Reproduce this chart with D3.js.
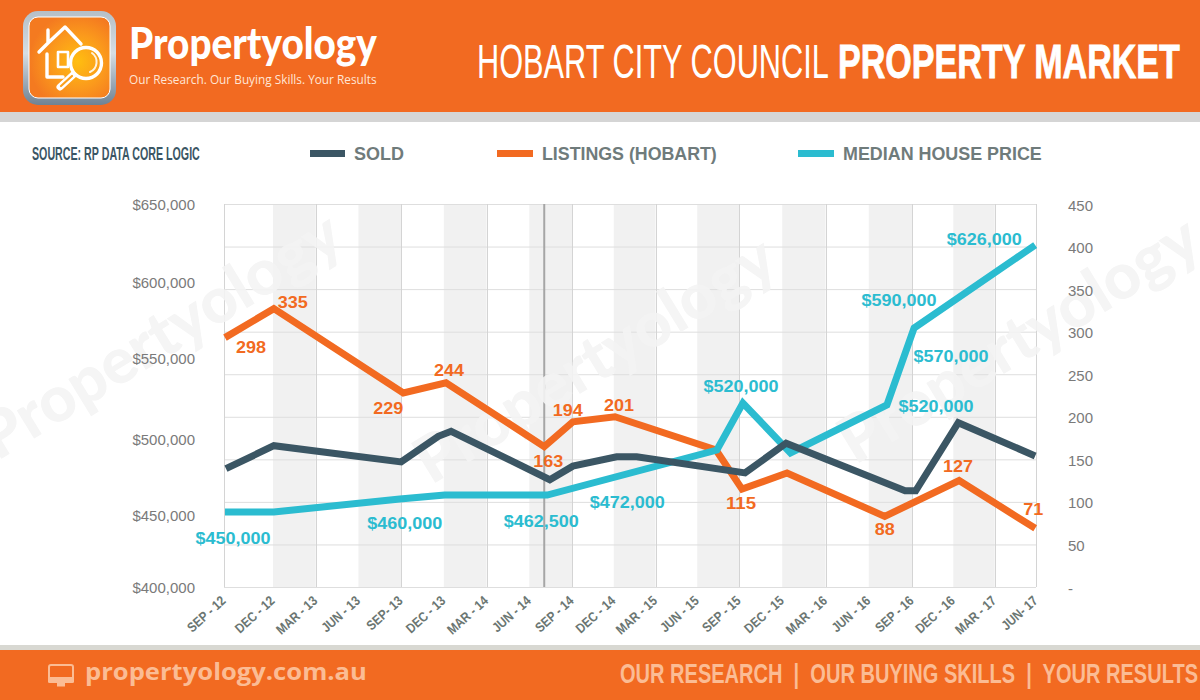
<!DOCTYPE html>
<html><head><meta charset="utf-8">
<style>html,body{margin:0;padding:0;background:#fff}svg{display:block}text{font-family:"Liberation Sans",Arial,sans-serif}</style>
<script src="https://cdn.jsdelivr.net/npm/d3@7/dist/d3.min.js"></script>
</head><body><svg id="c" width="1200" height="700"></svg>
<script>
// ---- data ----
const quarters = ["SEP - 12","DEC - 12","MAR - 13","JUN - 13","SEP- 13","DEC - 13","MAR - 14","JUN - 14","SEP - 14","DEC - 14","MAR - 15","JUN - 15","SEP - 15","DEC - 15","MAR - 16","JUN - 16","SEP - 16","DEC - 16","MAR - 17","JUN- 17"];
const priceTicks = [400000,450000,500000,550000,600000,650000];
const countTicks = [0,50,100,150,200,250,300,350,400,450];
const soldTime = [0.04,1.02,4,4.87,5.17,7.48,8.02,9.07,9.55,12.14,13.09,15.84,16.09,17.12,18.98];
const soldValues = [139,166,147,177,183,126,142,153,153,134,169,113,113,193,154];
const listingsTime = [0.02,1.02,4.05,5.05,7.35,8.02,9.03,11.45,12.07,13.11,15.37,17.14,18.98];
const listingsValues = [293,327,228,240,165,194,200,161,115,134,83,125,69];
const priceTime = [0.02,1.02,3.97,5.02,7.42,11.47,12.09,13.19,15.42,16.05,18.98];
const priceValues = [449000,449000,457400,460000,460000,489400,520100,487500,518800,569000,623200];
// labels as printed on the chart
const listingsLabels = ["298","335","229","244","163","194","201","115","88","127","71"];
const priceLabels = ["$450,000","$460,000","$462,500","$472,000","$520,000","$520,000","$570,000","$590,000","$626,000"];
const legendNames = ["SOLD","LISTINGS (HOBART)","MEDIAN HOUSE PRICE"];

// ---- layout ----
const ORANGE="#F26A21", TEAL="#2BBCD0", DARK="#3B5664", GREY="#6F7B7B", PALE="#FBBC94";
const plotTop=204, plotBottom=587, plotLeft=224, plotRight=1036;
const svg=d3.select("#c");
const x=d3.scaleLinear().domain([0,1,8,12,16,19]).range([plotLeft,273,572,739,912,plotRight]);
const yCount=d3.scaleLinear().domain([0,450]).range([plotBottom,plotTop]);
const yPrice=d3.scaleLinear().domain([400000,650000]).range([plotBottom,plotTop]);

// text squeezed horizontally to a measured width
function fitText(g,str,xp,yp,w,size,fill,weight,family){
  const t=g.append("text").attr("font-size",size).attr("fill",fill)
    .attr("font-weight",weight||"normal").style("font-family",family||null).text(str);
  const k=w/t.node().getComputedTextLength();
  t.attr("transform",`translate(${xp},${yp}) scale(${k},1)`);
  return t;
}

// ---- chrome ----
svg.append("rect").attr("width",1200).attr("height",112).attr("fill",ORANGE);
svg.append("rect").attr("y",112).attr("width",1200).attr("height",10).attr("fill","#D5D5D5");
svg.append("rect").attr("y",645).attr("width",1200).attr("height",5).attr("fill","#D8D8D2");
svg.append("rect").attr("y",650).attr("width",1200).attr("height",50).attr("fill",ORANGE);

const defs=svg.append("defs");
const metal=defs.append("linearGradient").attr("id","metal").attr("x1",0).attr("y1",0).attr("x2",0).attr("y2",1);
metal.append("stop").attr("offset",0).attr("stop-color","#B5BFC7");
metal.append("stop").attr("offset",.45).attr("stop-color","#D6DEE4");
metal.append("stop").attr("offset",1).attr("stop-color","#6F8293");
const glow=defs.append("radialGradient").attr("id","glow").attr("cx",.6).attr("cy",.55).attr("r",.6);
glow.append("stop").attr("offset",0).attr("stop-color","#FFBE10");
glow.append("stop").attr("offset",.55).attr("stop-color","#FB9A1C");
glow.append("stop").attr("offset",1).attr("stop-color","#F47A20");

// logo icon
const logo=svg.append("g");
logo.append("rect").attr("x",23).attr("y",11).attr("width",93).attr("height",94).attr("rx",15).attr("fill","url(#metal)");
logo.append("rect").attr("x",29).attr("y",17).attr("width",81).attr("height",81).attr("rx",9).attr("fill","url(#glow)").attr("stroke","#fff").attr("stroke-width",1);
const wh=logo.append("g").attr("fill","none").attr("stroke","#fff").attr("stroke-width",3.4).attr("stroke-linejoin","round").attr("stroke-linecap","round");
wh.append("path").attr("d","M39 52 L48 43 L48 30 M48 43 L65 27 L81 44");
wh.append("path").attr("d","M47 54 V77 H63");
wh.append("rect").attr("x",58).attr("y",52).attr("width",10).attr("height",15).attr("stroke-width",2.6);
wh.append("circle").attr("cx",86).attr("cy",63).attr("r",15.5);
wh.append("path").attr("d","M92 53 A11 11 0 0 1 90 72").attr("stroke-width",2).attr("opacity",.85);
wh.append("path").attr("d","M73 75 L60 87").attr("stroke-width",7);
wh.append("path").attr("d","M72 76 L61 86").attr("stroke","#FBA01C").attr("stroke-width",2.2);

fitText(svg,"Propertyology",129,59,248,44,"#fff","900",'Lato');
fitText(svg,"Our Research. Our Buying Skills. Your Results",129,84,248,13,"#FFE6D6","normal",'"Open Sans"');
fitText(svg,"HOBART CITY COUNCIL",477,78,352,49,"#fff","normal");
fitText(svg,"PROPERTY MARKET",838,78,342,49,"#fff","bold").attr("stroke","#fff").attr("stroke-width",.9);

fitText(svg,"SOURCE: RP DATA CORE LOGIC",32,160,168,18,DARK,"bold");

// legend
const legend=[[310,345,DARK,354,50],[497,533,ORANGE,542,175],[798,834,TEAL,843,199]];
legend.forEach((d,i)=>{
  svg.append("line").attr("x1",d[0]).attr("x2",d[1]).attr("y1",153.5).attr("y2",153.5).attr("stroke",d[2]).attr("stroke-width",7);
  fitText(svg,legendNames[i],d[3],160,d[4],17.5,GREY,"bold");
});

// ---- plot background ----
const plot=svg.append("g");
d3.range(1,19,2).forEach(i=>{
  plot.append("rect").attr("x",x(i)).attr("y",plotTop).attr("width",x(i+1)-x(i)).attr("height",plotBottom-plotTop).attr("fill","#F1F1F1");
});
plot.selectAll("line.h").data(countTicks).join("line").attr("class","h")
  .attr("x1",plotLeft).attr("x2",plotRight).attr("y1",d=>yCount(d)+.5).attr("y2",d=>yCount(d)+.5).attr("stroke","#DEDEDE");
plot.selectAll("line.v").data(d3.range(0,20,2).concat(19)).join("line").attr("class","v")
  .attr("x1",d=>Math.round(x(d))+.5).attr("x2",d=>Math.round(x(d))+.5).attr("y1",plotTop).attr("y2",plotBottom).attr("stroke","#D4D4D4");
plot.append("line").attr("x1",x(7.35)).attr("x2",x(7.35)).attr("y1",plotTop).attr("y2",plotBottom).attr("stroke","#A6A6A6").attr("stroke-width",2);

// watermarks
[[172,354],[606,378],[1030,358]].forEach(p=>{
  svg.append("text").attr("transform",`translate(${p[0]},${p[1]}) rotate(-31.5)`).attr("text-anchor","middle")
    .attr("font-size",64).attr("font-weight","900").attr("fill","#F4F4F4").attr("opacity",.9).style("font-family",'Lato').text("Propertyology");
});

// ---- axes ----
const leftAxis=d3.axisLeft(yPrice).tickValues(priceTicks).tickFormat(d=>"$"+d3.format(",")(d)).tickSize(0).tickPadding(29);
const gl=svg.append("g").attr("transform",`translate(${plotLeft},0)`).call(leftAxis);
const leftNudge=[0,5,6,1,1.5,0];
gl.selectAll(".tick text").attr("dy",(d,i)=>(5+leftNudge[i])+"px");
const rightAxis=d3.axisRight(yCount).tickValues(countTicks).tickFormat(d=>d===0?"-":d).tickSize(0).tickPadding(33);
const gr=svg.append("g").attr("transform",`translate(${plotRight-1},0)`).call(rightAxis);
gr.selectAll(".tick text").attr("dy","6px");
[gl,gr].forEach(g=>{g.select(".domain").remove();
  g.selectAll(".tick text").attr("font-size",15).attr("fill","#7A7A7A").style("font-family",'"Liberation Sans"');});

const bottomG=svg.append("g");
bottomG.selectAll("text").data(quarters).join("text")
  .attr("transform",(d,i)=>`translate(${x(i)+2.5},602) rotate(-42) scale(.86,1)`)
  .attr("text-anchor","end").attr("font-size",13.5).attr("font-weight","bold").attr("fill","#6B7672")
  .text(d=>d);

// ---- lines ----
function series(times,values,yScale,color){
  const pts=times.map((t,i)=>[t,values[i]]);
  const gen=d3.line().x(d=>x(d[0])).y(d=>yScale(d[1]));
  svg.append("path").attr("d",gen(pts)).attr("fill","none").attr("stroke",color).attr("stroke-width",7).attr("stroke-linejoin","miter");
  return pts;
}
const listingsPts=series(listingsTime,listingsValues,yCount,ORANGE);
const pricePts=series(priceTime,priceValues,yPrice,TEAL);
series(soldTime,soldValues,yCount,DARK);

// ---- value labels: [reading index, dx, dy from that reading] ----
const listingsAt=[[0,26,9],[1,19,-7],[2,-15,15],[3,3,-13],[4,4,14],[5,-5,-12],[6,4,-12],[8,-1,14],[10,0,13],[11,-1,-15],[12,-2,-19]];
const priceAt=[[0,8,26],[2,5,24],[4,-6,26],[4,80,7],[6,-2,-17],[8,49,1],[9,37,28],[9,-15,-28],[10,-51,-6]];
function labels(names,at,pts,yScale,color,wf){
  names.forEach((s,i)=>{
    const [k,dx,dy]=at[i], p=pts[k];
    svg.append("text").attr("x",x(p[0])+dx).attr("y",yScale(p[1])+dy+6)
      .attr("text-anchor","middle").attr("font-size",16.5).attr("font-weight","bold").attr("fill",color)
      .attr("textLength",wf(s)).attr("lengthAdjust","spacingAndGlyphs").text(s);
  });
}
labels(listingsLabels,listingsAt,listingsPts,yCount,ORANGE,s=>s.length*10);
labels(priceLabels,priceAt,pricePts,yPrice,TEAL,()=>75);

// ---- footer ----
const mon=svg.append("g").attr("fill",PALE);
mon.append("rect").attr("x",49).attr("y",665).attr("width",24).attr("height",17).attr("rx",2).attr("fill","none").attr("stroke",PALE).attr("stroke-width",2);
mon.append("rect").attr("x",48).attr("y",677).attr("width",26).attr("height",6).attr("rx",1.5);
mon.append("rect").attr("x",57).attr("y",683).attr("width",8).attr("height",3.5);
fitText(svg,"propertyology.com.au",85,680,282,23,PALE,"bold",'"Open Sans"');
fitText(svg,"OUR RESEARCH  |  OUR BUYING SKILLS  |  YOUR RESULTS",620,683,556,27,PALE,"bold").style("white-space","pre");
</script></body></html>
